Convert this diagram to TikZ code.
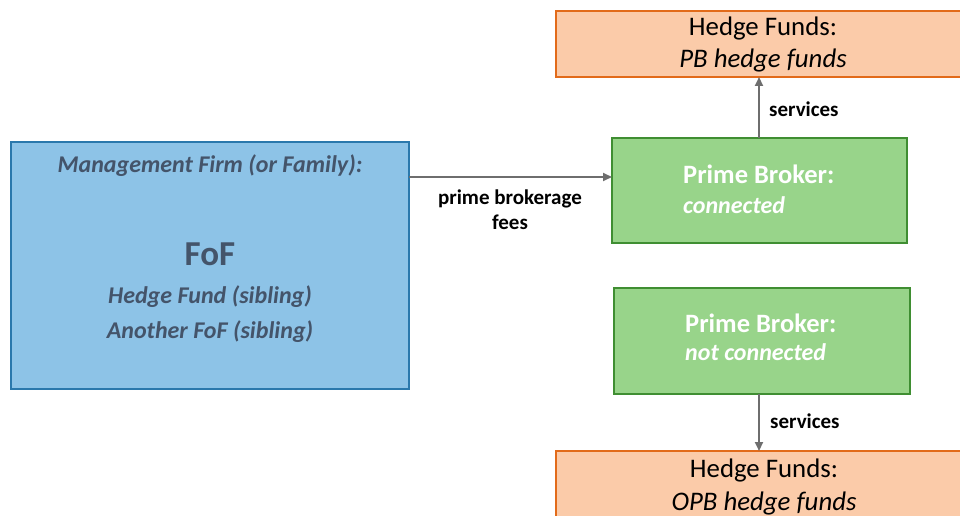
\documentclass[tikz,border=0pt]{standalone}
\usepackage{fontspec}
\setmainfont{Carlito}
\usetikzlibrary{arrows.meta}
\definecolor{bluefill}{HTML}{8DC3E7}
\definecolor{blueline}{HTML}{2A78AC}
\definecolor{bluetext}{HTML}{44546A}
\definecolor{greenfill}{HTML}{98D48A}
\definecolor{greenline}{HTML}{3F8E32}
\definecolor{orangefill}{HTML}{FBCBA9}
\definecolor{orangeline}{HTML}{E26B1A}
\definecolor{arrowgray}{HTML}{6E6E6E}
\tikzset{
  box/.style={draw, line width=2pt, inner sep=0pt, outer sep=0pt},
  bluebox/.style={box, draw=blueline, fill=bluefill},
  greenbox/.style={box, draw=greenline, fill=greenfill},
  orangebox/.style={box, draw=orangeline, fill=orangefill},
  txt/.style={inner sep=0pt, anchor=base},
  bluetxt/.style={txt, text=bluetext, font=\fontsize{24}{28}\selectfont\bfseries\itshape},
  pbhead/.style={txt, anchor=base west, text=white, font=\fontsize{26.5}{28}\selectfont\bfseries},
  pbsub/.style={txt, anchor=base west, text=white, font=\fontsize{24}{28}\selectfont\bfseries\itshape},
  hfhead/.style={txt, font=\fontsize{26.8}{30}\selectfont},
  hfsub/.style={txt, font=\fontsize{26.8}{30}\selectfont\itshape},
  lbl/.style={txt, font=\fontsize{21}{24}\selectfont\bfseries},
  conn/.style={draw=arrowgray, line width=2pt, -{Triangle[length=9pt,width=8pt]}, shorten >=0pt}
}
\begin{document}
\begin{tikzpicture}[x=1pt,y=-1pt]
\useasboundingbox (0,0) rectangle (960,516);
\fill[white] (0,0) rectangle (960,516);

% boxes
\node[bluebox, minimum width=398pt, minimum height=247pt] (mgmt) at (210,265.5) {};
\node[greenbox, minimum width=295pt, minimum height=105pt] (pbc) at (759.5,190.5) {};
\node[greenbox, minimum width=296pt, minimum height=106pt] (pbn) at (762,340.5) {};
\node[orangebox, minimum width=414pt, minimum height=66pt] (hftop) at (763,44) {};
\node[orangebox, minimum width=414pt, minimum height=70pt] (hfbot) at (763,486) {};

% blue box text
\node[bluetxt] (t1) at (210,172) {Management Firm (or Family):};
\node[txt, text=bluetext, font=\fontsize{35}{38}\selectfont\bfseries] (t2) at (210,265) {FoF};
\node[bluetxt] (t3) at (210,303) {Hedge Fund (sibling)};
\node[bluetxt] (t4) at (210,338) {Another FoF (sibling)};

% green box text
\node[pbhead] (c1) at (683,183) {Prime Broker:};
\node[pbsub] (c2) at (683,213) {connected};
\node[pbhead] (n1) at (685,332) {Prime Broker:};
\node[pbsub] (n2) at (685,360) {not connected};

% orange box text
\node[hfhead] (h1) at (763,36) {Hedge Funds:};
\node[hfsub] (h2) at (763,68) {PB hedge funds};
\node[hfhead] (h3) at (764,477) {Hedge Funds:};
\node[hfsub] (h4) at (764,510) {OPB hedge funds};

% connectors
\coordinate (a1s) at (mgmt.east |- 0,177);
\coordinate (a1e) at (pbc.west |- 0,177);
\draw[conn] (a1s) -- (a1e);
\coordinate (a2s) at (759,0 |- pbc.north);
\coordinate (a2e) at (759,0 |- hftop.south);
\draw[conn] (a2s) -- (a2e);
\coordinate (a3s) at (759,0 |- pbn.south);
\coordinate (a3e) at (759,0 |- hfbot.north);
\draw[conn] (a3s) -- (a3e);

% connector labels
\node[lbl] (l1) at (510,204) {prime brokerage};
\node[lbl] (l2) at (510,229) {fees};
\node[lbl, anchor=base west] (l3) at (769,117) {services};
\node[lbl, anchor=base west] (l4) at (770,428) {services};
\end{tikzpicture}
\end{document}
